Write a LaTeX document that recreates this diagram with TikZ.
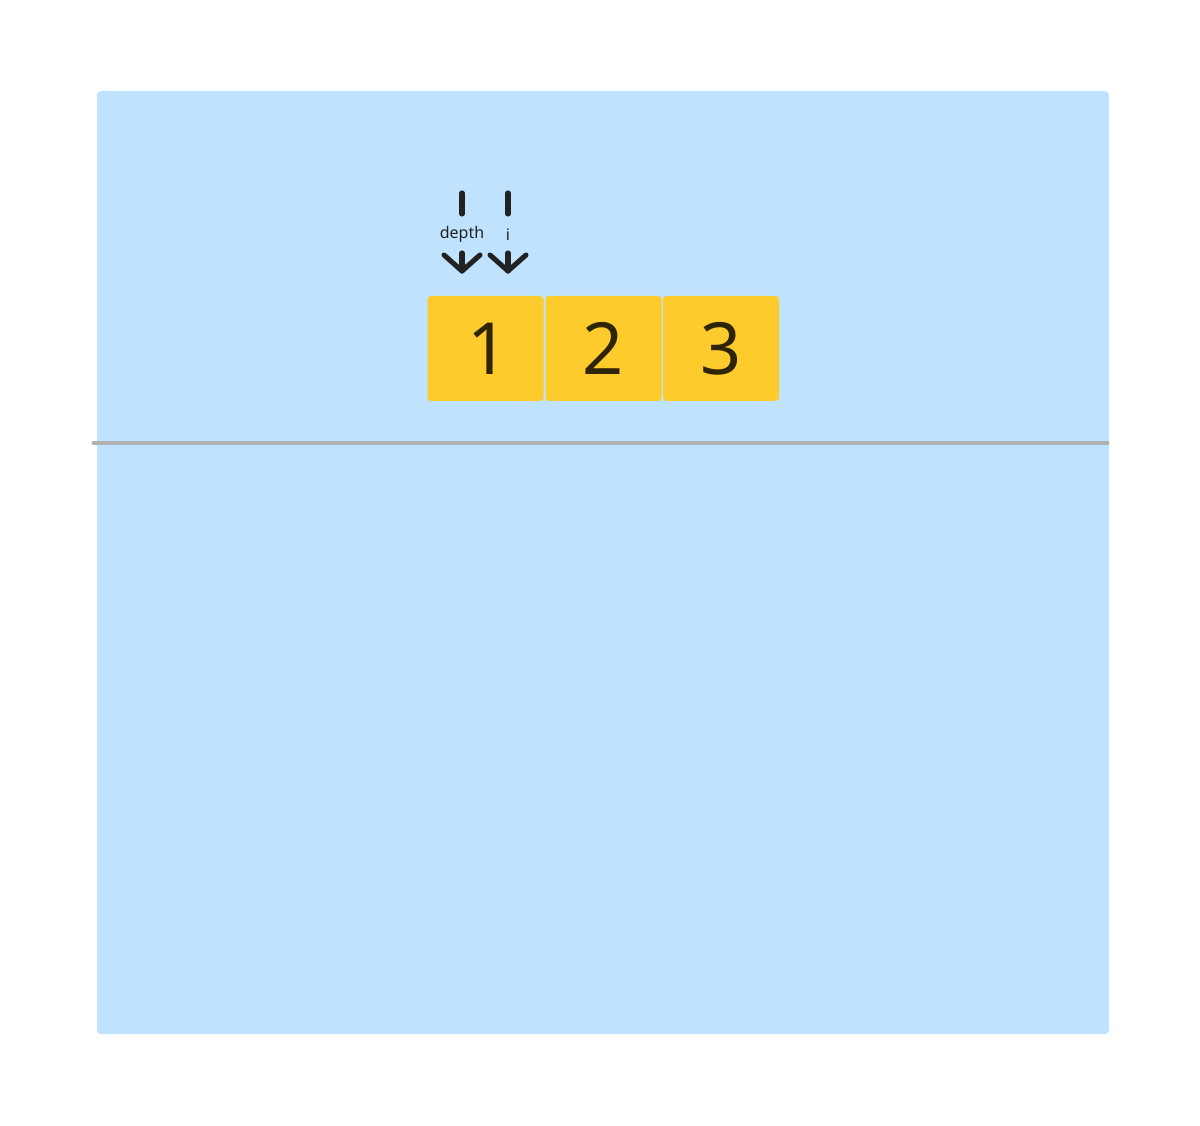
\documentclass[tikz,border=0pt]{standalone}
\usepackage{fontspec}
\setmainfont{Noto Sans}
\usetikzlibrary{arrows.meta,calc}
\definecolor{panelblue}{HTML}{BFE3FE}
\definecolor{cellyellow}{HTML}{FDCB2C}
\definecolor{digitcol}{HTML}{2E2506}
\definecolor{rulegray}{HTML}{B0B0B0}
\definecolor{inkcol}{HTML}{222222}
\begin{document}
\begin{tikzpicture}[x=0.75pt,y=-0.75pt,
  cell/.style={fill=cellyellow,rounded corners=2.5pt,minimum width=87pt,minimum height=78.75pt,inner sep=0pt,text=digitcol,font=\fontsize{54}{60}\selectfont},
  ptr/.style={draw=inkcol,line width=3.8pt,line cap=round,line join=round},
  ptrlabel/.style={text=inkcol,font=\fontsize{12}{14}\selectfont,inner sep=1pt}]
\useasboundingbox (0,0) rectangle (1200,1126);
\fill[white] (0,0) rectangle (1200,1126);
\fill[panelblue,rounded corners=3pt] (97,91) rectangle (1109,1034);
\coordinate (ruleL) at (94,443);
\coordinate (ruleR) at (1107,443);
\draw[rulegray,line width=3.6pt,line cap=round] (ruleL) -- (ruleR);
\node[cell] (c1) at (485.5,348.5) {\hspace{4pt}1};
\node[cell] (c2) at (603.5,348.5) {2};
\node[cell] (c3) at (721,348.5) {3};
% pointers
\coordinate (dtop) at (462,193);
\coordinate (dend) at (462,214);
\node[ptrlabel] (dlab) at (462,234.5) {depth};
\coordinate (dstart) at (462,253);
\coordinate (dtip) at (462,271);
\draw[ptr] (dtop) -- (dend);
\draw[ptr] (dstart) -- (dtip);
\draw[ptr] ($(dtip)+(-18,-16)$) -- (dtip) -- ($(dtip)+(18,-16)$);
\coordinate (itop) at (508,193);
\coordinate (iend) at (508,214);
\node[ptrlabel] (ilab) at (508,234.5) {i};
\coordinate (istart) at (508,253);
\coordinate (itip) at (508,271);
\draw[ptr] (itop) -- (iend);
\draw[ptr] (istart) -- (itip);
\draw[ptr] ($(itip)+(-18,-16)$) -- (itip) -- ($(itip)+(18,-16)$);
\end{tikzpicture}
\end{document}
